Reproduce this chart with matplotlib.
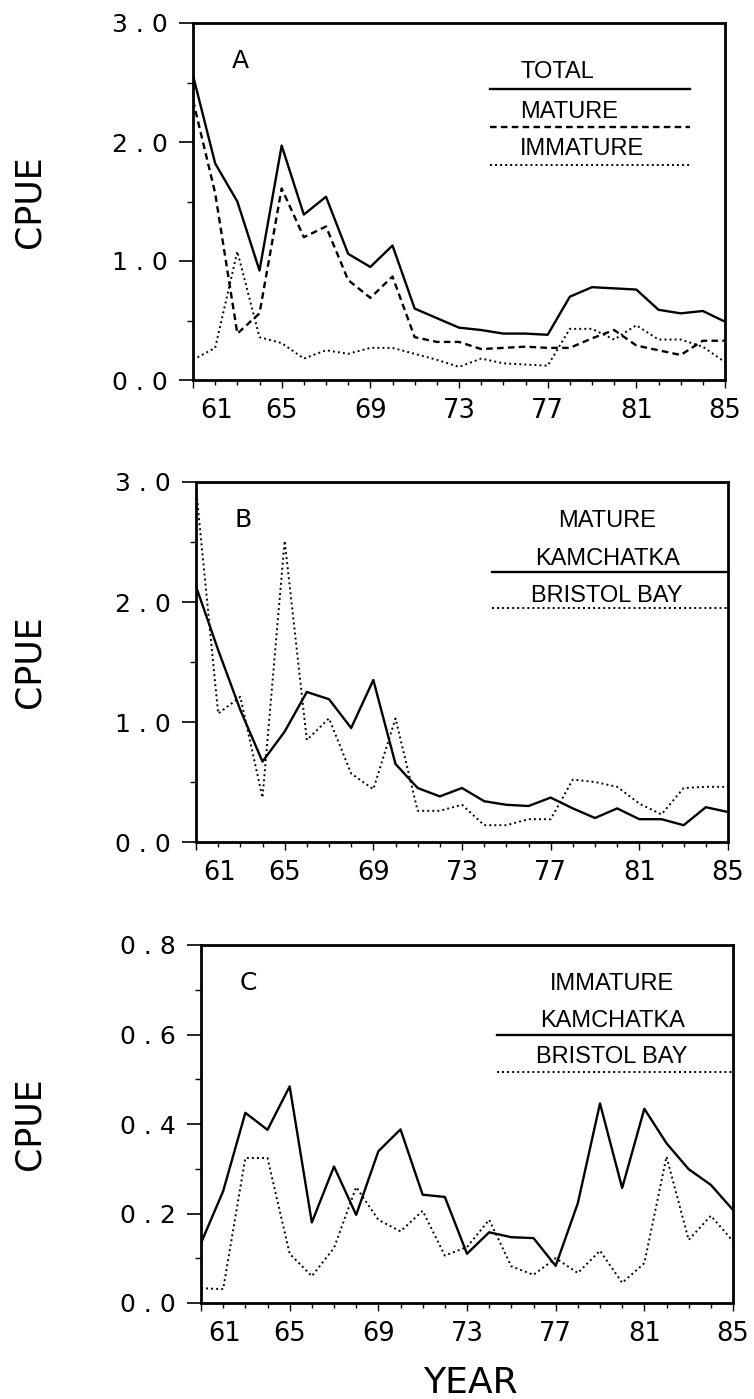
import matplotlib.pyplot as plt
from matplotlib.ticker import MultipleLocator, FuncFormatter
import matplotlib.transforms as mtransforms

years = list(range(61, 86))
year_labels = [61, 65, 69, 73, 77, 81, 85]

# A: all fish
total = [2.56, 1.82, 1.50, 0.92, 1.97, 1.39, 1.54, 1.06, 0.95, 1.13, 0.60, 0.52, 0.44,
         0.42, 0.39, 0.39, 0.38, 0.70, 0.78, 0.77, 0.76, 0.59, 0.56, 0.58, 0.49]
mature = [2.35, 1.57, 0.39, 0.56, 1.61, 1.20, 1.29, 0.84, 0.69, 0.87, 0.36, 0.32, 0.32,
          0.26, 0.27, 0.28, 0.27, 0.27, 0.35, 0.42, 0.29, 0.25, 0.21, 0.33, 0.33]
immature = [0.17, 0.27, 1.08, 0.36, 0.31, 0.18, 0.25, 0.22, 0.27, 0.27, 0.22, 0.17, 0.11,
            0.18, 0.14, 0.13, 0.12, 0.43, 0.43, 0.34, 0.46, 0.34, 0.34, 0.28, 0.15]

# B: mature fish by region
mat_kamchatka = [2.13, 1.60, 1.10, 0.67, 0.92, 1.25, 1.19, 0.95, 1.35, 0.65, 0.45, 0.38, 0.45,
                 0.34, 0.31, 0.30, 0.37, 0.28, 0.20, 0.28, 0.19, 0.19, 0.14, 0.29, 0.25]
mat_bristol = [2.95, 1.07, 1.21, 0.37, 2.51, 0.85, 1.03, 0.57, 0.44, 1.03, 0.26, 0.26, 0.31,
               0.14, 0.14, 0.19, 0.19, 0.52, 0.50, 0.46, 0.32, 0.23, 0.45, 0.46, 0.46]

# C: immature fish by region
imm_kamchatka = [0.134, 0.25, 0.425, 0.387, 0.484, 0.18, 0.305, 0.197, 0.339, 0.388, 0.242, 0.237, 0.11,
                 0.158, 0.147, 0.145, 0.083, 0.223, 0.446, 0.257, 0.434, 0.357, 0.299, 0.264, 0.208]
imm_bristol = [0.033, 0.031, 0.324, 0.324, 0.11, 0.06, 0.123, 0.259, 0.186, 0.16, 0.206, 0.106, 0.125,
               0.186, 0.082, 0.063, 0.10, 0.067, 0.117, 0.045, 0.089, 0.327, 0.141, 0.195, 0.138]

plt.rcParams['font.family'] = ['DejaVu Sans']
LEG_FONT = 'Liberation Sans'

SOLID = dict(color='black', lw=1.7, linestyle='-')
DASHED = dict(color='black', lw=1.7, linestyle=(0, (2.8, 1.8)))
DOTTED = dict(color='black', lw=1.4, linestyle=(0, (1, 1.6)))

fig = plt.figure(figsize=(7.54, 13.99), dpi=100)
H = 1399.0
W = 754.0


def make_axes(left, top, bottom):
    return fig.add_axes([left / W, (H - bottom) / H, 532 / W, (bottom - top) / H])


def style_axes(ax, ymax, ymajor, yminor, letter):
    ax.set_xlim(61, 85)
    ax.set_ylim(0, ymax)
    for s in ax.spines.values():
        s.set_linewidth(2.0)
    ax.xaxis.set_major_locator(plt.FixedLocator(year_labels))
    ax.xaxis.set_minor_locator(MultipleLocator(1))
    ax.yaxis.set_major_locator(MultipleLocator(ymajor))
    ax.yaxis.set_minor_locator(MultipleLocator(yminor))
    # spaced-out decimals, e.g. "3 . 0"
    ax.yaxis.set_major_formatter(FuncFormatter(lambda v, p: ' . '.join(f'{v:.1f}'.split('.'))))
    ax.tick_params(axis='x', which='major', direction='out', length=6, width=1.0,
                   pad=7, labelsize=18.5)
    ax.tick_params(axis='x', which='minor', direction='out', length=3.5, width=1.0)
    ax.tick_params(axis='y', which='major', direction='out', length=10, width=1.2,
                   pad=8, labelsize=18)
    ax.tick_params(axis='y', which='minor', direction='out', length=4, width=1.0)
    # first year label sits just right of the axis corner
    lbl = ax.get_xticklabels()[0]
    lbl.set_horizontalalignment('left')
    lbl.set_transform(lbl.get_transform() + mtransforms.ScaledTranslation(5 / 72, 0, fig.dpi_scale_trans))
    ax.text(0.072, 0.874, letter, transform=ax.transAxes, fontsize=18, ha='left', va='baseline')


def region_legend(ax, title, ys):
    # title, KAMCHATKA (solid rule), BRISTOL BAY (dotted rule)
    ax.text(0.773, ys[0], title, transform=ax.transAxes, fontsize=17, family=LEG_FONT,
            ha='center', va='baseline')
    ax.text(0.773, ys[1], 'KAMCHATKA', transform=ax.transAxes, fontsize=17, family=LEG_FONT,
            ha='center', va='baseline')
    ax.plot([0.556, 1.0], [ys[2], ys[2]], transform=ax.transAxes, clip_on=False, **SOLID)
    ax.text(0.773, ys[3], 'BRISTOL BAY', transform=ax.transAxes, fontsize=17, family=LEG_FONT,
            ha='center', va='baseline')
    ax.plot([0.556, 1.0], [ys[4], ys[4]], transform=ax.transAxes, clip_on=False, **DOTTED)


# Panel A
axA = make_axes(193, 23, 380)
axA.plot(years, total, **SOLID)
axA.plot(years, mature, **DASHED)
axA.plot(years, immature, **DOTTED)
style_axes(axA, 3.0, 1.0, 0.5, 'A')
for txt, yt, yl, st in [('TOTAL', 0.846, 0.815, SOLID),
                        ('MATURE', 0.734, 0.709, DASHED),
                        ('IMMATURE', 0.630, 0.602, DOTTED)]:
    axA.text(0.615, yt, txt, transform=axA.transAxes, fontsize=17, family=LEG_FONT,
             ha='left', va='baseline')
    axA.plot([0.558, 0.934], [yl, yl], transform=axA.transAxes, **st)

# Panel B
axB = make_axes(196, 482, 842)
axB.plot(years, mat_kamchatka, **SOLID)
axB.plot(years, mat_bristol, **DOTTED)
style_axes(axB, 3.0, 1.0, 0.5, 'B')
region_legend(axB, 'MATURE', [0.875, 0.769, 0.750, 0.667, 0.650])

# Panel C
axC = make_axes(201, 945, 1303)
axC.plot(years, imm_kamchatka, **SOLID)
axC.plot(years, imm_bristol, **DOTTED)
style_axes(axC, 0.8, 0.2, 0.1, 'C')
region_legend(axC, 'IMMATURE', [0.874, 0.771, 0.749, 0.670, 0.645])

for ax in (axA, axB, axC):
    pos = ax.get_position()
    fig.text(29 / W, pos.y0 + pos.height / 2, 'CPUE', rotation=90, fontsize=25,
             ha='center', va='center')

fig.text(470 / W, (H - 1383) / H, 'YEAR', fontsize=26, ha='center', va='center')

fig.savefig('out.png', dpi=100, facecolor='white')
